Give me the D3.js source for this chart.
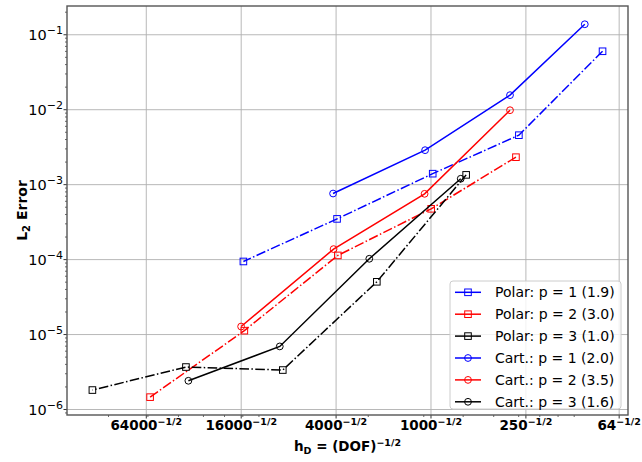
<!DOCTYPE html>
<html>
<head>
<meta charset="utf-8">
<script src="https://cdn.jsdelivr.net/npm/d3@7"></script>
<style>
  body { margin: 0; background: #fff; }
  text { font-family: "DejaVu Sans", sans-serif; }
</style>
</head>
<body>
<div id="chart"></div>
<script>
const width = 642;
const height = 462;
const margin = {top: 6, right: 14, bottom: 47, left: 67};

// degrees of freedom and L2 errors
const polarP1Dof = [81, 275, 968, 3915, 15380];
const polarP1Err = [5.93e-2, 4.5e-3, 1.38e-3, 3.44e-4, 9.3e-5];
const polarP2Dof = [287, 990, 3870, 15170, 60100];
const polarP2Err = [2.29e-3, 4.69e-4, 1.12e-4, 1.11e-5, 1.44e-6];
const polarP3Dof = [594, 2190, 8650, 35600, 139600];
const polarP3Err = [1.33e-3, 4.98e-5, 3.31e-6, 3.63e-6, 1.79e-6];
const cartP1Dof = [105, 313, 1082, 4150];
const cartP1Err = [1.36e-1, 1.54e-2, 2.84e-3, 7.5e-4];
const cartP2Dof = [313, 1090, 4120, 15900];
const cartP2Err = [9.7e-3, 7.43e-4, 1.36e-4, 1.26e-5];
const cartP3Dof = [643, 2445, 9040, 34350];
const cartP3Err = [1.18e-3, 1.01e-4, 6.84e-6, 2.38e-6];

const seriesNames = ["Polar: p = 1 (1.9)", "Polar: p = 2 (3.0)", "Polar: p = 3 (1.0)",
                     "Cart.: p = 1 (2.0)", "Cart.: p = 2 (3.5)", "Cart.: p = 3 (1.6)"];
const seriesColors = ["#0000ff", "#ff0000", "#000000", "#0000ff", "#ff0000", "#000000"];

// x ticks are DOF values, shown as DOF^-1/2
const xTickDof = [64000, 16000, 4000, 1000, 250, 64];
const yTickExp = [-6, -5, -4, -3, -2, -1];

const series = [
  {dof: polarP1Dof, err: polarP1Err, marker: "square", dashed: true},
  {dof: polarP2Dof, err: polarP2Err, marker: "square", dashed: true},
  {dof: polarP3Dof, err: polarP3Err, marker: "square", dashed: true},
  {dof: cartP1Dof, err: cartP1Err, marker: "circle", dashed: false},
  {dof: cartP2Dof, err: cartP2Err, marker: "circle", dashed: false},
  {dof: cartP3Dof, err: cartP3Err, marker: "circle", dashed: false}
].map((s, i) => ({...s, name: seriesNames[i], color: seriesColors[i],
  pts: s.dof.map((d, j) => [Math.pow(d, -0.5), s.err[j]])}));

const svg = d3.select("#chart").append("svg")
  .attr("width", width).attr("height", height);

const x = d3.scaleLog()
  .domain([Math.pow(10, -2.653), Math.pow(10, -0.8735)])
  .range([margin.left, width - margin.right]);
const y = d3.scaleLog()
  .domain([Math.pow(10, -6.08), Math.pow(10, -0.623)])
  .range([height - margin.bottom, margin.top]);

const plotW = width - margin.left - margin.right;
const plotH = height - margin.top - margin.bottom;

// grid
svg.append("g")
  .attr("transform", `translate(0,${height - margin.bottom})`)
  .call(d3.axisBottom(x).tickValues(xTickDof.map(d => Math.pow(d, -0.5))).tickSize(-plotH).tickFormat(""))
  .call(g => g.select(".domain").remove())
  .selectAll("line").attr("stroke", "#b0b0b0").attr("stroke-width", 0.9);
svg.append("g")
  .attr("transform", `translate(${margin.left},0)`)
  .call(d3.axisLeft(y).tickValues(yTickExp.map(e => Math.pow(10, e))).tickSize(-plotW).tickFormat(""))
  .call(g => g.select(".domain").remove())
  .selectAll("line").attr("stroke", "#b0b0b0").attr("stroke-width", 0.9);

// minor ticks
const [x0, x1] = x.domain();
const xMinor = [];
for (let k = -3; k <= 0; k++) for (let m = 2; m <= 9; m++) {
  const v = m * Math.pow(10, k);
  if (v >= x0 && v <= x1) xMinor.push(v);
}
svg.append("g")
  .attr("transform", `translate(0,${height - margin.bottom})`)
  .call(d3.axisBottom(x).tickValues(xMinor).tickSize(2).tickFormat(""))
  .call(g => g.select(".domain").remove())
  .selectAll("line").attr("stroke", "#000").attr("stroke-width", 0.6);

const [y0, y1] = y.domain();
const yMinor = [];
for (let k = -7; k <= 0; k++) for (let m = 2; m <= 9; m++) {
  const v = m * Math.pow(10, k);
  if (v >= y0 && v <= y1) yMinor.push(v);
}
svg.append("g")
  .attr("transform", `translate(${margin.left},0)`)
  .call(d3.axisLeft(y).tickValues(yMinor).tickSize(2).tickFormat(""))
  .call(g => g.select(".domain").remove())
  .selectAll("line").attr("stroke", "#000").attr("stroke-width", 0.6);

// major axes
const xAxis = svg.append("g")
  .attr("transform", `translate(0,${height - margin.bottom})`)
  .call(d3.axisBottom(x).tickValues(xTickDof.map(d => Math.pow(d, -0.5))).tickSize(3.5).tickFormat(""));
xAxis.select(".domain").remove();
xAxis.selectAll("line").attr("stroke", "#000").attr("stroke-width", 0.8);
xAxis.selectAll(".tick").each(function(d, i) {
  const t = d3.select(this).append("text")
    .attr("y", 15).attr("fill", "#000").attr("text-anchor", "middle")
    .attr("font-size", 13.5).attr("font-weight", "bold");
  t.append("tspan").text(xTickDof[i]);
  t.append("tspan").attr("font-size", 9.5).attr("dy", -5).text("\u22121/2");
});

const yAxis = svg.append("g")
  .attr("transform", `translate(${margin.left},0)`)
  .call(d3.axisLeft(y).tickValues(yTickExp.map(e => Math.pow(10, e))).tickSize(3.5).tickFormat(""));
yAxis.select(".domain").remove();
yAxis.selectAll("line").attr("stroke", "#000").attr("stroke-width", 0.8);
yAxis.selectAll(".tick").each(function(d, i) {
  const t = d3.select(this).append("text")
    .attr("x", -4).attr("y", 5).attr("fill", "#000").attr("text-anchor", "end")
    .attr("font-size", 14.5);
  t.append("tspan").text("10");
  t.append("tspan").attr("font-size", 11).attr("dy", -6).text("\u2212" + Math.abs(yTickExp[i]));
});

// frame
svg.append("rect")
  .attr("x", margin.left).attr("y", margin.top)
  .attr("width", plotW).attr("height", plotH)
  .attr("fill", "none").attr("stroke", "#555").attr("stroke-width", 1.4);

// series
const line = d3.line().x(d => x(d[0])).y(d => y(d[1]));
const dashDot = "9.6,2.4,1.5,2.4";

function drawMarker(g, s, cx, cy) {
  if (s.marker === "square") {
    g.append("rect").attr("x", cx - 3.3).attr("y", cy - 3.3)
      .attr("width", 6.6).attr("height", 6.6)
      .attr("fill", "none").attr("stroke", s.color).attr("stroke-width", 1);
  } else {
    g.append("circle").attr("cx", cx).attr("cy", cy).attr("r", 3.4)
      .attr("fill", "none").attr("stroke", s.color).attr("stroke-width", 1);
  }
}

const plot = svg.append("g");
series.forEach(s => {
  plot.append("path").datum(s.pts)
    .attr("d", line).attr("fill", "none")
    .attr("stroke", s.color).attr("stroke-width", 1.5)
    .attr("stroke-dasharray", s.dashed ? dashDot : null);
  s.pts.forEach(p => drawMarker(plot, s, x(p[0]), y(p[1])));
});

// legend
const legend = svg.append("g");
legend.append("rect")
  .attr("x", 450).attr("y", 281).attr("width", 171).attr("height", 128)
  .attr("rx", 3).attr("fill", "#fff").attr("fill-opacity", 0.8)
  .attr("stroke", "#cccccc").attr("stroke-width", 1);
series.forEach((s, i) => {
  const ly = 292.3 + i * 21.9;
  legend.append("line").attr("x1", 455).attr("x2", 481).attr("y1", ly).attr("y2", ly)
    .attr("stroke", s.color).attr("stroke-width", 1.5);
  drawMarker(legend, s, 468, ly);
  legend.append("text").attr("x", 495).attr("y", ly + 5)
    .attr("font-size", 14).attr("fill", "#000").text(s.name);
});

// axis labels
const xl = svg.append("text")
  .attr("x", margin.left + plotW / 2).attr("y", 451)
  .attr("text-anchor", "middle").attr("font-size", 13.5).attr("font-weight", "bold");
xl.append("tspan").text("h");
xl.append("tspan").attr("font-size", 9.5).attr("dy", 3).text("D");
xl.append("tspan").attr("dy", -3).text(" = (DOF)");
xl.append("tspan").attr("font-size", 9.5).attr("dy", -5).text("\u22121/2");

const yl = svg.append("text")
  .attr("transform", `translate(27,${margin.top + plotH / 2}) rotate(-90)`)
  .attr("text-anchor", "middle").attr("font-size", 14).attr("font-weight", "bold");
yl.append("tspan").text("L");
yl.append("tspan").attr("font-size", 10).attr("dy", 3).text("2");
yl.append("tspan").attr("dy", -3).text(" Error");
</script>
</body>
</html>
